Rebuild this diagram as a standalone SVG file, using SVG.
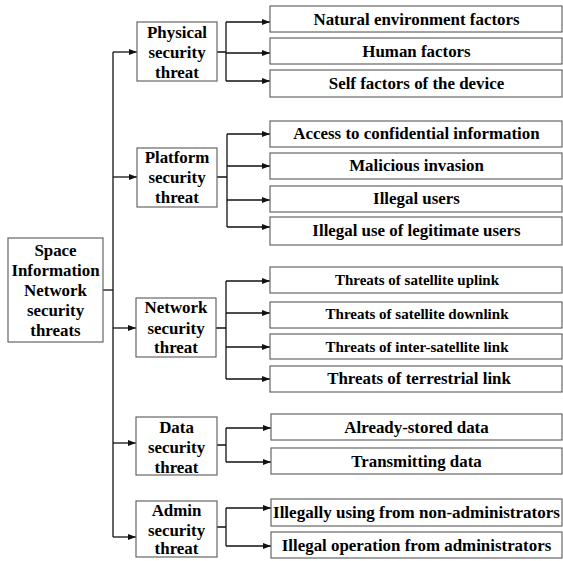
<svg xmlns="http://www.w3.org/2000/svg" width="563" height="561" viewBox="0 0 563 561">
  <defs>
    <marker id="arrow" viewBox="0 0 8 6" refX="8" refY="3" markerWidth="8" markerHeight="6" markerUnits="userSpaceOnUse" orient="auto">
      <path d="M0,0 L8,3 L0,6 Z" fill="#111"/>
    </marker>
    <style>
      .box { fill: #fff; stroke: #666; stroke-width: 1.2; }
      .t { font-family: "Liberation Serif", "Times New Roman", serif; font-weight: bold; font-size: 16.9px; fill: #000; text-anchor: middle; }
      .s { font-size: 15px; }
      .line { fill: none; stroke: #111; stroke-width: 1.3; }
      .arr { fill: none; stroke: #111; stroke-width: 1.3; marker-end: url(#arrow); }
    </style>
  </defs>
  <rect width="563" height="561" fill="#fff"/>

  <!-- connectors -->
  <g id="connectors">
    <!-- root to trunk -->
    <path class="line" d="M103,290 H113"/>
    <path class="line" d="M113,52 V537"/>
    <path class="arr" d="M113,52 H137"/>
    <path class="arr" d="M113,177 H137"/>
    <path class="arr" d="M113,328 H136"/>
    <path class="arr" d="M113,443 H136"/>
    <path class="arr" d="M113,537 H136"/>

    <!-- physical branch -->
    <path class="line" d="M217,52 H226 M226,22 V81"/>
    <path class="arr" d="M226,22 H270"/>
    <path class="arr" d="M226,53 H270"/>
    <path class="arr" d="M226,81 H270"/>

    <!-- platform branch -->
    <path class="line" d="M217,177 H227 M227,134 V227"/>
    <path class="arr" d="M227,134 H270"/>
    <path class="arr" d="M227,166 H270"/>
    <path class="arr" d="M227,200 H270"/>
    <path class="arr" d="M227,227 H270"/>

    <!-- network branch -->
    <path class="line" d="M216,328 H226 M226,281 V379"/>
    <path class="arr" d="M226,281 H270"/>
    <path class="arr" d="M226,313 H270"/>
    <path class="arr" d="M226,347 H270"/>
    <path class="arr" d="M226,379 H270"/>

    <!-- data branch -->
    <path class="line" d="M217,445 H226 M226,428 V462"/>
    <path class="arr" d="M226,428 H271"/>
    <path class="arr" d="M226,462 H271"/>

    <!-- admin branch -->
    <path class="line" d="M217,527 H226 M226,508 V546"/>
    <path class="arr" d="M226,508 H271"/>
    <path class="arr" d="M226,546 H271"/>
  </g>

  <!-- root -->
  <g id="root">
    <rect class="box" x="8" y="238" width="95" height="104"/>
    <text class="t" x="55.5" y="256">Space</text>
    <text class="t" x="55.5" y="276">Information</text>
    <text class="t" x="55.5" y="296">Network</text>
    <text class="t" x="55.5" y="316">security</text>
    <text class="t" x="55.5" y="336">threats</text>
  </g>

  <!-- categories -->
  <g id="physical">
    <rect class="box" x="137" y="22" width="80" height="59"/>
    <text class="t" x="177" y="38">Physical</text>
    <text class="t" x="177" y="58">security</text>
    <text class="t" x="177" y="78">threat</text>
  </g>
  <g id="platform">
    <rect class="box" x="137" y="148" width="80" height="59"/>
    <text class="t" x="177" y="162.5">Platform</text>
    <text class="t" x="177" y="183">security</text>
    <text class="t" x="177" y="203">threat</text>
  </g>
  <g id="network">
    <rect class="box" x="136" y="298" width="80" height="59"/>
    <text class="t" x="176" y="313">Network</text>
    <text class="t" x="176" y="334">security</text>
    <text class="t" x="176" y="353">threat</text>
  </g>
  <g id="data">
    <rect class="box" x="136" y="417" width="81" height="58"/>
    <text class="t" x="176.5" y="433">Data</text>
    <text class="t" x="176.5" y="453">security</text>
    <text class="t" x="176.5" y="473">threat</text>
  </g>
  <g id="admin">
    <rect class="box" x="136" y="501" width="81" height="56"/>
    <text class="t" x="176.5" y="516">Admin</text>
    <text class="t" x="176.5" y="536">security</text>
    <text class="t" x="176.5" y="554">threat</text>
  </g>

  <!-- physical leaves -->
  <g id="natural">
    <rect class="box" x="270" y="6" width="292" height="26"/>
    <text class="t" x="416.5" y="25">Natural environment factors</text>
  </g>
  <g id="human">
    <rect class="box" x="270" y="38" width="292" height="26"/>
    <text class="t" x="416.5" y="57">Human factors</text>
  </g>
  <g id="self">
    <rect class="box" x="270" y="70" width="292" height="27"/>
    <text class="t" x="416.5" y="89">Self factors of the device</text>
  </g>

  <!-- platform leaves -->
  <g id="access">
    <rect class="box" x="270" y="121" width="292" height="26"/>
    <text class="t" x="416.5" y="139">Access to confidential information</text>
  </g>
  <g id="malicious">
    <rect class="box" x="270" y="153" width="292" height="26"/>
    <text class="t" x="416.5" y="171">Malicious invasion</text>
  </g>
  <g id="illegal-users">
    <rect class="box" x="270" y="186" width="292" height="26"/>
    <text class="t" x="416.5" y="204">Illegal users</text>
  </g>
  <g id="illegal-use">
    <rect class="box" x="270" y="217" width="292" height="28"/>
    <text class="t" x="416.5" y="236">Illegal use of legitimate users</text>
  </g>

  <!-- network leaves -->
  <g id="uplink">
    <rect class="box" x="270" y="267" width="292" height="26"/>
    <text class="t s" x="417" y="285" textLength="164" lengthAdjust="spacingAndGlyphs">Threats of satellite uplink</text>
  </g>
  <g id="downlink">
    <rect class="box" x="270" y="302" width="292" height="26"/>
    <text class="t s" x="417" y="319" textLength="183" lengthAdjust="spacingAndGlyphs">Threats of satellite downlink</text>
  </g>
  <g id="inter">
    <rect class="box" x="270" y="334" width="292" height="25"/>
    <text class="t s" x="417" y="352" textLength="183" lengthAdjust="spacingAndGlyphs">Threats of inter-satellite link</text>
  </g>
  <g id="terrestrial">
    <rect class="box" x="270" y="366" width="292" height="26"/>
    <text class="t" x="419" y="384">Threats of terrestrial link</text>
  </g>

  <!-- data leaves -->
  <g id="stored">
    <rect class="box" x="271" y="414" width="291" height="26"/>
    <text class="t" x="416.5" y="433">Already-stored data</text>
  </g>
  <g id="transmitting">
    <rect class="box" x="271" y="448" width="291" height="26"/>
    <text class="t" x="416.5" y="467">Transmitting data</text>
  </g>

  <!-- admin leaves -->
  <g id="non-admin">
    <rect class="box" x="271" y="499" width="291" height="27"/>
    <text class="t" x="416.5" y="518" textLength="287" lengthAdjust="spacingAndGlyphs">Illegally using from non-administrators</text>
  </g>
  <g id="admin-op">
    <rect class="box" x="271" y="532" width="291" height="26"/>
    <text class="t" x="416.5" y="551">Illegal operation from administrators</text>
  </g>
</svg>
